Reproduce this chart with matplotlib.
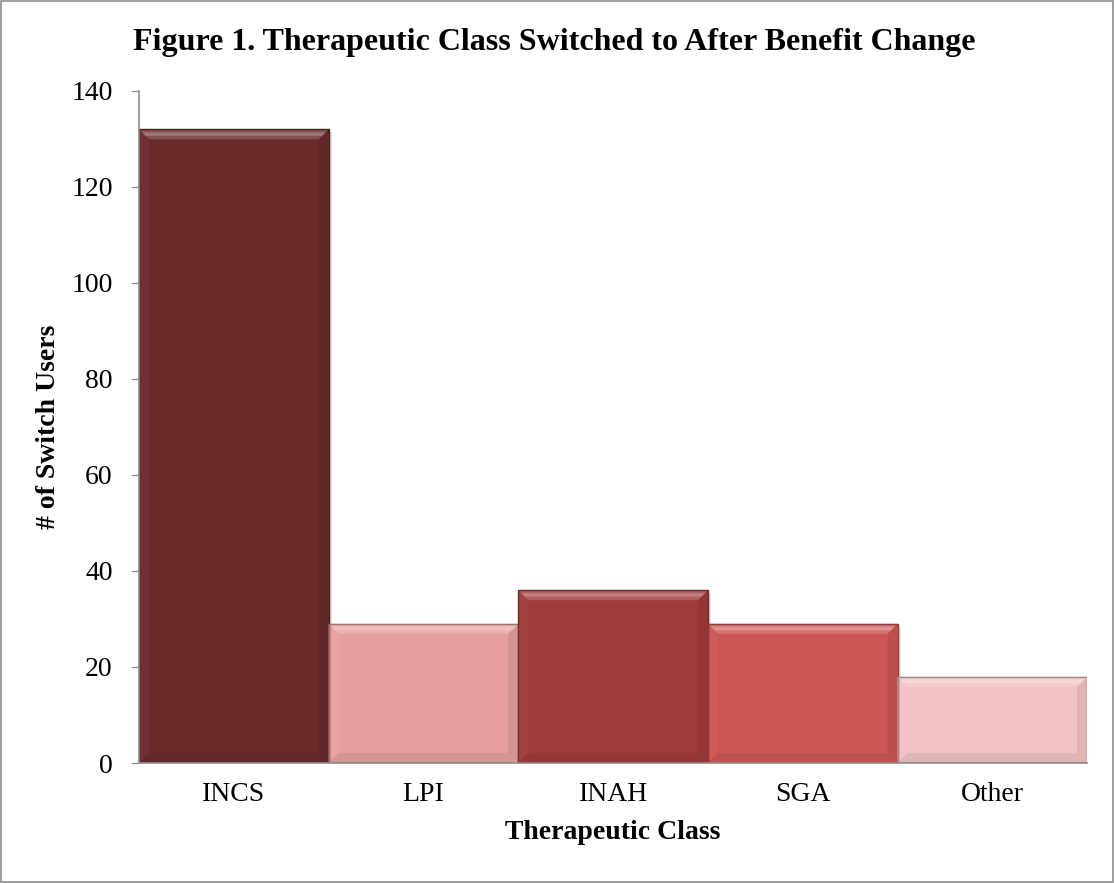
import matplotlib
matplotlib.use("Agg")
import matplotlib.pyplot as plt
from matplotlib.patches import Polygon, Rectangle
import matplotlib.colors as mcolors
import numpy as np

categories = ["INCS", "LPI", "INAH", "SGA", "Other"]
values = [132, 29, 36, 29, 18]
colors = ["#6A2A2A", "#E5A09E", "#9F3B3B", "#CC5654", "#F2C3C3"]

plt.rcParams['font.family'] = ['Liberation Serif', 'DejaVu Serif']

fig = plt.figure(figsize=(11.15, 8.83), dpi=100)
ax = fig.add_axes([0.1247, 0.1359, 0.8503, 0.7611])

x = np.arange(len(categories))
bars = ax.bar(x, values, width=1.0, color=colors, edgecolor="none", zorder=2)

ax.set_xlim(-0.5, len(categories) - 0.5)
ax.set_ylim(0, 140)
ax.set_yticks(range(0, 141, 20))
ax.set_xticks(x)
ax.set_xticklabels(categories)

fig.canvas.draw()
px_x = (ax.get_xlim()[1] - ax.get_xlim()[0]) / (ax.get_window_extent().width)
px_y = (ax.get_ylim()[1] - ax.get_ylim()[0]) / (ax.get_window_extent().height)
bx, by = 10 * px_x, 10 * px_y

def shade(c, f):
    r = np.array(mcolors.to_rgb(c))
    if f > 0:
        r = r + (1 - r) * f
    else:
        r = r * (1 + f)
    return tuple(np.clip(r, 0, 1))

for b, c in zip(bars, colors):
    x0, w, h = b.get_x(), b.get_width(), b.get_height()
    x1 = x0 + w
    # soft shadow
    ax.add_patch(Rectangle((x0 + 3 * px_x, -3 * px_y), w, h, color=(0, 0, 0, 0.12), zorder=1.5, lw=0))
    # left bevel
    ax.add_patch(Polygon([(x0, h), (x0 + bx, h - by), (x0 + bx, by), (x0, 0)],
                         closed=True, color=shade(c, 0.03), lw=0, zorder=3))
    # right bevel (dark)
    ax.add_patch(Polygon([(x1, h), (x1 - bx, h - by), (x1 - bx, by), (x1, 0)],
                         closed=True, color=shade(c, -0.08), lw=0, zorder=3))
    # bottom bevel (dark)
    ax.add_patch(Polygon([(x0, 0), (x1, 0), (x1 - bx, by), (x0 + bx, by)],
                         closed=True, color=shade(c, -0.07), lw=0, zorder=3))
    # top bevel (light gradient)
    ax.add_patch(Polygon([(x0, h), (x1, h), (x1 - bx, h - by), (x0 + bx, h - by)],
                         closed=True, color=shade(c, 0.18), lw=0, zorder=3))
    ax.add_patch(Polygon([(x0 + bx * 0.3, h - by * 0.3), (x1 - bx * 0.3, h - by * 0.3),
                          (x1 - bx * 0.65, h - by * 0.65), (x0 + bx * 0.65, h - by * 0.65)],
                         closed=True, color=shade(c, 0.35), lw=0, zorder=3.1))
    ax.add_patch(Rectangle((x0, 0), w, h, fill=False, edgecolor=shade(c, -0.3), lw=1.0, zorder=3.5))

for s in ["top", "right"]:
    ax.spines[s].set_visible(False)
for s in ["left", "bottom"]:
    ax.spines[s].set_color("#8C8C8C")
    ax.spines[s].set_linewidth(1.2)
    ax.spines[s].set_zorder(4)

ax.tick_params(axis="y", direction="out", length=6, color="#8C8C8C", labelsize=20, pad=13)
ax.tick_params(axis="x", length=0, labelsize=20, pad=14)

ax.set_ylabel("# of Switch Users", fontsize=20, fontweight="bold")
ax.yaxis.set_label_coords(-0.096, 0.5)
ax.set_xlabel("Therapeutic Class", fontsize=20, fontweight="bold")
ax.xaxis.set_label_coords(0.5, -0.104)
ax.xaxis.label.set_va("center")
ax.yaxis.label.set_va("center")

fig.text(0.497, 0.952, "Figure 1. Therapeutic Class Switched to After Benefit Change",
         fontsize=23, fontweight="bold", ha="center", va="center")

fig.patches.append(Rectangle((0.0005, 0.0008), 0.998, 0.998, transform=fig.transFigure,
                             fill=False, edgecolor="#8C8C8C", lw=1.2))

fig.savefig("out.png", dpi=100)
